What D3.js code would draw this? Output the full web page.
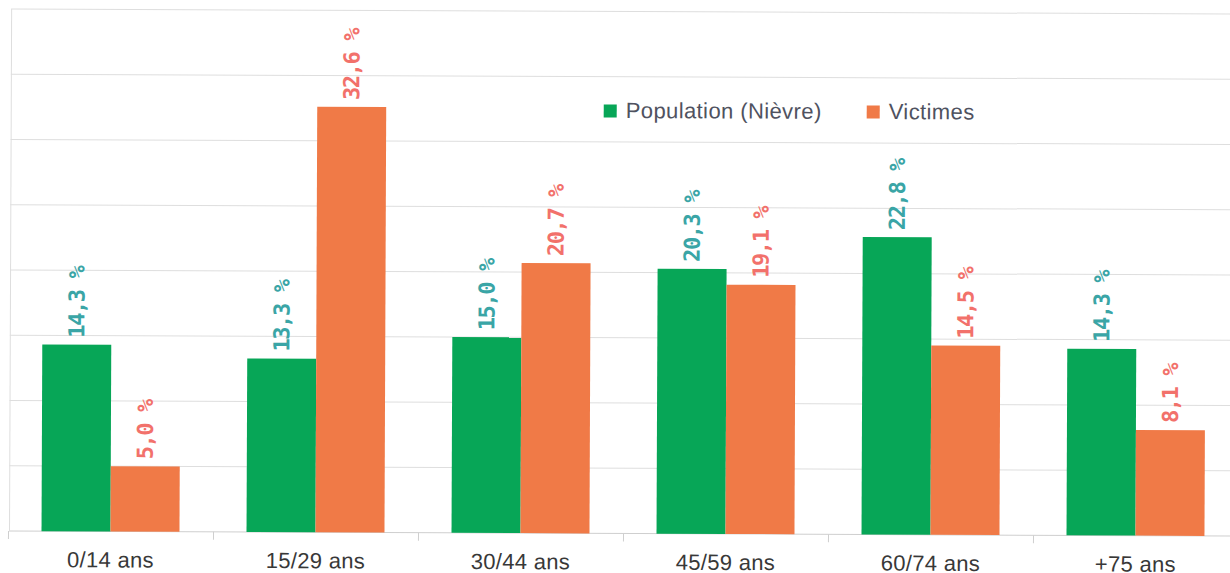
<!DOCTYPE html>
<html>
<head>
<meta charset="utf-8">
<script src="https://cdn.jsdelivr.net/npm/d3@7"></script>
<style>
  html, body { margin: 0; padding: 0; background: #fff; }
  svg { display: block; }
</style>
</head>
<body>
<svg id="chart" width="1230" height="573"></svg>
<script>
// Age groups and the share (%) of each group
const categories = ["0/14 ans", "15/29 ans", "30/44 ans", "45/59 ans", "60/74 ans", "+75 ans"];
const seriesNames = ["Population (Nièvre)", "Victimes"];
const population = [14.3, 13.3, 15.0, 20.3, 22.8, 14.3];
const victimes = [5.0, 32.6, 20.7, 19.1, 14.5, 8.1];
const gridTicks = [0, 5, 10, 15, 20, 25, 30, 35, 40];

const barColors = ["#07a657", "#f07a47"];
const labelColors = ["#3aa5a6", "#f2716b"];

const rows = categories.map((c, i) => ({ cat: c, values: [population[i], victimes[i]] }));

const svg = d3.select("#chart");
const base = 531;
// whole chart sits with a very slight clockwise tilt
const g = svg.append("g").attr("transform", `rotate(0.235, 10, ${base})`);

const x0 = d3.scaleBand().domain(categories).range([8, 1238]).paddingInner(0).paddingOuter(0);
const x1 = d3.scaleBand().domain(seriesNames).range([0, x0.bandwidth()]).paddingInner(0).paddingOuter(0.486);
const y = d3.scaleLinear().domain([0, 40]).range([base, 9]);

// horizontal gridlines
g.append("g").selectAll("line").data(gridTicks).join("line")
  .attr("x1", 9).attr("x2", 1240)
  .attr("y1", d => y(d)).attr("y2", d => y(d))
  .attr("stroke", d => d === 0 ? "#cfcfcf" : "#dedede")
  .attr("stroke-width", 1);

// left border of the plot
g.append("line")
  .attr("x1", 9.5).attr("x2", 9.5).attr("y1", y(40)).attr("y2", base)
  .attr("stroke", "#dedede");

// category axis
const xAxis = d3.axisBottom(x0).tickSize(0).tickPadding(0);
const axisG = g.append("g").attr("transform", `translate(0,${base})`).call(xAxis);
axisG.select(".domain").remove();
axisG.selectAll("text")
  .attr("y", 36).attr("dy", 0)
  .attr("font-family", "'Liberation Sans', Arial, sans-serif")
  .attr("font-size", 22)
  .attr("letter-spacing", 0.3)
  .attr("fill", "#383838");

// band boundary ticks
const bounds = categories.map(c => x0(c)).concat([x0.range()[1]]);
g.append("g").selectAll("line").data(bounds).join("line")
  .attr("x1", d => d + 0.5).attr("x2", d => d + 0.5)
  .attr("y1", base).attr("y2", base + 8)
  .attr("stroke", "#cfcfcf");

// bars
const groups = g.append("g").selectAll("g").data(rows).join("g")
  .attr("transform", d => `translate(${x0(d.cat)},0)`);

groups.selectAll("rect")
  .data(d => d.values.map((v, k) => ({ key: seriesNames[k], k, v })))
  .join("rect")
  .attr("x", d => x1(d.key))
  .attr("y", d => y(d.v))
  .attr("width", x1.bandwidth())
  .attr("height", d => base - y(d.v))
  .attr("fill", d => barColors[d.k]);

// value labels, written vertically above each bar
const fmt = v => v.toFixed(1).replace(".", ",") + " %";
groups.selectAll("text.val")
  .data(d => d.values.map((v, k) => ({ key: seriesNames[k], k, v })))
  .join("text")
  .attr("class", "val")
  .attr("transform", d => `translate(${x1(d.key) + x1.bandwidth() / 2},${y(d.v) - 7}) rotate(-90)`)
  .attr("text-anchor", "start")
  .attr("dominant-baseline", "central")
  .attr("font-family", "'DejaVu Sans Mono', monospace")
  .attr("font-weight", "bold")
  .attr("font-size", 22)
  .attr("letter-spacing", -1.4)
  .attr("fill", d => labelColors[d.k])
  .text(d => fmt(d.v));

// legend
const legendPos = [602, 865];
const legend = g.append("g").selectAll("g").data(seriesNames).join("g")
  .attr("transform", (d, i) => `translate(${legendPos[i]},${108})`);
legend.append("rect")
  .attr("x", 0).attr("y", -6).attr("width", 13).attr("height", 13)
  .attr("fill", (d, i) => barColors[i]);
legend.append("text")
  .attr("x", 22).attr("y", 0)
  .attr("dominant-baseline", "central")
  .attr("font-family", "'Liberation Sans', Arial, sans-serif")
  .attr("font-size", 22)
  .attr("letter-spacing", 0.4)
  .attr("fill", "#4f5260")
  .text(d => d);
</script>
</body>
</html>
